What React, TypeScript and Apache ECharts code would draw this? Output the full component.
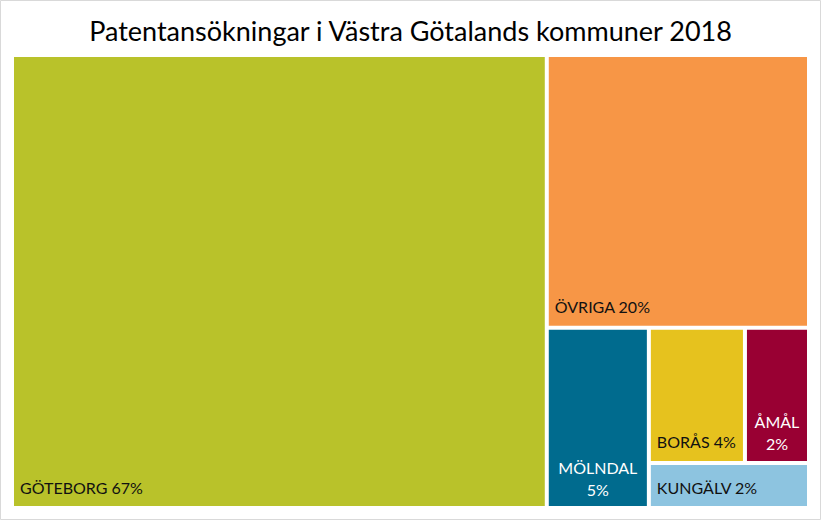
import React, { useEffect, useRef } from "react";
import * as echarts from "echarts";

const TITLE = "Patentansökningar i Västra Götalands kommuner 2018";
const names = ["GÖTEBORG", "ÖVRIGA", "MÖLNDAL", "BORÅS", "ÅMÅL", "KUNGÄLV"];
const shares = [67.1, 19.8, 5.1, 3.6, 2.4, 2.0];
const pctLabels = [67, 20, 5, 4, 2, 2];

const COLORS = ["#B9C22A", "#F79646", "#006B8E", "#E6C21E", "#990033", "#8DC4E0"];
const TEXT_COLORS = ["#111", "#111", "#fff", "#111", "#fff", "#111"];
const CENTERED = [false, false, true, false, true, false];
const FONT = "Lato, 'Open Sans', sans-serif";

function leaf(i: number) {
  const centered = CENTERED[i];
  return {
    name: names[i],
    value: shares[i],
    itemStyle: { color: COLORS[i] },
    label: {
      show: true,
      formatter: centered ? `${names[i]}\n${pctLabels[i]}%` : `${names[i]} ${pctLabels[i]}%`,
      position: centered ? "insideBottom" : "insideBottomLeft",
      align: centered ? "center" : "left",
      verticalAlign: "bottom",
      color: TEXT_COLORS[i],
      fontFamily: FONT,
      fontSize: 16,
      lineHeight: 22,
      padding: centered ? [0, 0, 6, 0] : [0, 0, 8, 6],
      overflow: "none",
    },
  };
}

export default function App() {
  const ref = useRef<HTMLDivElement>(null);
  useEffect(() => {
    if (!ref.current) return;
    const chart = echarts.init(ref.current, undefined, { renderer: "svg" });
    const data = [
      leaf(0),
      {
        name: "g1",
        children: [
          leaf(1),
          {
            name: "g2",
            children: [
              leaf(2),
              {
                name: "g3",
                children: [{ name: "g4", children: [leaf(3), leaf(4)] }, leaf(5)],
              },
            ],
          },
        ],
      },
    ];
    chart.setOption({
      animation: false,
      backgroundColor: "#fff",
      title: {
        text: TITLE,
        left: "center",
        top: 12,
        textStyle: { fontFamily: FONT, fontSize: 27, fontWeight: "normal", color: "#000" },
      },
      graphic: [
        {
          type: "rect",
          shape: { x: 0.5, y: 0.5, width: 820, height: 519 },
          style: { fill: "none", stroke: "#d9d9d9", lineWidth: 1 },
          silent: true,
        },
      ],
      series: [
        {
          type: "treemap",
          left: 14,
          right: 14,
          top: 57,
          bottom: 14,
          sort: false,
          roam: false,
          nodeClick: false,
          breadcrumb: { show: false },
          squareRatio: 1,
          itemStyle: { gapWidth: 4, borderWidth: 0, borderColor: "#fff" },
          upperLabel: { show: false },
          data,
        },
      ],
    });
    return () => chart.dispose();
  }, []);
  return (
    <div
      ref={ref}
      style={{ position: "fixed", left: 0, top: 0, width: 821, height: 520 }}
    />
  );
}
